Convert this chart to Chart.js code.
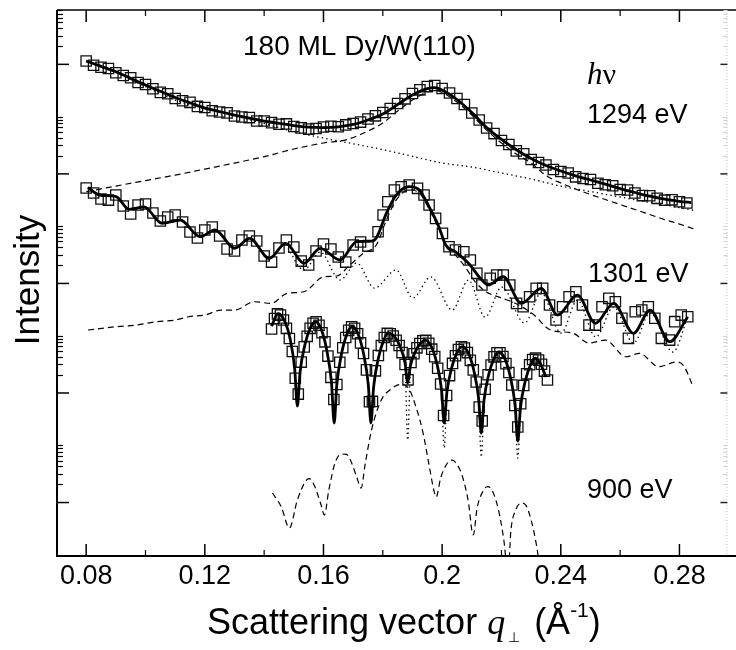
<!DOCTYPE html>
<html>
<head>
<meta charset="utf-8">
<script src="https://cdn.jsdelivr.net/npm/chart.js@4.4.1/dist/chart.umd.min.js"></script>
<style>
  html, body { margin: 0; padding: 0; background: #fff; }
</style>
</head>
<body>
<canvas id="chart" width="736" height="650"></canvas>
<script>
// y values are log10(intensity), arbitrary units; x is q in 1/Å
const xTickValues = [0.08, 0.12, 0.16, 0.2, 0.24, 0.28];
const xTickLabels = ['0.08', '0.12', '0.16', '0.2', '0.24', '0.28'];
const xMinorValues = [0.10, 0.14, 0.18, 0.22, 0.26];
const yDecades = [0, 1, 2, 3, 4];

// 1294 eV
const q1294 = [
  0.0800, 0.0825, 0.0850, 0.0875, 0.0900, 0.0925, 0.0950, 0.0975, 0.1000, 0.1025,
  0.1050, 0.1075, 0.1100, 0.1125, 0.1150, 0.1175, 0.1200, 0.1225, 0.1250, 0.1275,
  0.1300, 0.1325, 0.1350, 0.1375, 0.1400, 0.1425, 0.1450, 0.1475, 0.1500, 0.1525,
  0.1550, 0.1575, 0.1600, 0.1625, 0.1650, 0.1675, 0.1700, 0.1725, 0.1750, 0.1775,
  0.1800, 0.1825, 0.1850, 0.1875, 0.1900, 0.1925, 0.1950, 0.1975, 0.2000, 0.2025,
  0.2050, 0.2075, 0.2100, 0.2125, 0.2150, 0.2175, 0.2200, 0.2225, 0.2250, 0.2275,
  0.2300, 0.2325, 0.2350, 0.2375, 0.2400, 0.2425, 0.2450, 0.2475, 0.2500, 0.2525,
  0.2550, 0.2575, 0.2600, 0.2625, 0.2650, 0.2675, 0.2700, 0.2725, 0.2750, 0.2775,
  0.2800, 0.2825
];
const v1294 = [
  4.030, 3.992, 3.973, 3.962, 3.923, 3.898, 3.877, 3.834, 3.816, 3.777,
  3.744, 3.731, 3.688, 3.668, 3.653, 3.616, 3.606, 3.576, 3.565, 3.557,
  3.528, 3.519, 3.514, 3.483, 3.483, 3.468, 3.453, 3.456, 3.432, 3.420,
  3.409, 3.414, 3.428, 3.435, 3.430, 3.447, 3.460, 3.473, 3.501, 3.530,
  3.560, 3.597, 3.642, 3.685, 3.734, 3.767, 3.797, 3.807, 3.779, 3.738,
  3.688, 3.633, 3.556, 3.492, 3.419, 3.368, 3.305, 3.268, 3.210, 3.184,
  3.131, 3.104, 3.081, 3.040, 3.022, 3.008, 2.973, 2.958, 2.949, 2.915,
  2.901, 2.892, 2.857, 2.853, 2.825, 2.802, 2.801, 2.777, 2.760, 2.763,
  2.746, 2.734
];
const q1294Fit = [
  0.080, 0.085, 0.090, 0.095, 0.100, 0.105, 0.110, 0.115, 0.120, 0.125,
  0.130, 0.135, 0.140, 0.145, 0.150, 0.155, 0.160, 0.165, 0.170, 0.175,
  0.180, 0.185, 0.190, 0.195, 0.1975, 0.200, 0.205, 0.210, 0.215, 0.220,
  0.225, 0.230, 0.235, 0.240, 0.245, 0.250, 0.255, 0.260, 0.265, 0.270,
  0.275, 0.280, 0.284
];
const v1294Fit = [
  4.030, 3.982, 3.933, 3.872, 3.811, 3.754, 3.697, 3.649, 3.601, 3.569,
  3.537, 3.510, 3.482, 3.462, 3.441, 3.427, 3.423, 3.430, 3.451, 3.492,
  3.546, 3.633, 3.720, 3.779, 3.788, 3.765, 3.679, 3.560, 3.423, 3.314,
  3.220, 3.140, 3.076, 3.026, 2.982, 2.944, 2.906, 2.866, 2.830, 2.796,
  2.769, 2.750, 2.738
];
const q1294Dash = [
  0.080, 0.090, 0.100, 0.110, 0.120, 0.130, 0.140, 0.150, 0.160, 0.168,
  0.175, 0.180, 0.185, 0.190, 0.195, 0.1975, 0.200, 0.205, 0.210, 0.215,
  0.220, 0.225, 0.230, 0.235, 0.240, 0.245, 0.250, 0.255, 0.260, 0.265,
  0.270, 0.275, 0.280, 0.285
];
const v1294Dash = [
  2.837, 2.889, 2.939, 2.989, 3.044, 3.099, 3.157, 3.227, 3.282, 3.314,
  3.391, 3.464, 3.574, 3.674, 3.747, 3.765, 3.743, 3.656, 3.537, 3.400,
  3.282, 3.181, 3.099, 2.985, 2.917, 2.862, 2.812, 2.766, 2.720, 2.675,
  2.629, 2.583, 2.542, 2.497
];
const q1294Dot = [
  0.080, 0.090, 0.100, 0.110, 0.120, 0.130, 0.140, 0.150, 0.160, 0.170,
  0.180, 0.190, 0.200, 0.210, 0.220, 0.230, 0.240, 0.250, 0.260, 0.270,
  0.280, 0.285
];
const v1294Dot = [
  4.026, 3.925, 3.797, 3.674, 3.598, 3.530, 3.460, 3.385, 3.327, 3.275,
  3.222, 3.160, 3.099, 3.063, 3.008, 2.953, 2.889, 2.839, 2.789, 2.739,
  2.693, 2.666
];

// 1301 eV
const q1301 = [
  0.0800, 0.0825, 0.0850, 0.0875, 0.0900, 0.0925, 0.0950, 0.0975, 0.1000, 0.1025,
  0.1050, 0.1075, 0.1100, 0.1125, 0.1150, 0.1175, 0.1200, 0.1225, 0.1250, 0.1275,
  0.1300, 0.1325, 0.1350, 0.1375, 0.1400, 0.1425, 0.1450, 0.1475, 0.1500, 0.1525,
  0.1550, 0.1575, 0.1600, 0.1625, 0.1650, 0.1675, 0.1700, 0.1725, 0.1750,
  0.1784, 0.1801, 0.1817, 0.1839, 0.1862, 0.1889, 0.1917, 0.1939, 0.1956, 0.1978,
  0.2001, 0.2023, 0.2045, 0.2073, 0.2095, 0.2117, 0.2134, 0.2162, 0.2184, 0.2206,
  0.2228, 0.2251, 0.2273, 0.2295, 0.2317, 0.2339, 0.2362, 0.2384, 0.2406, 0.2428,
  0.2451, 0.2473, 0.2495, 0.2517, 0.2539, 0.2562, 0.2584, 0.2606, 0.2628, 0.2651,
  0.2673, 0.2695, 0.2717, 0.2739, 0.2767, 0.2784, 0.2806, 0.2828
];
const v1301 = [
  2.871, 2.825, 2.771, 2.761, 2.807, 2.707, 2.634, 2.716, 2.725, 2.643,
  2.570, 2.606, 2.624, 2.561, 2.469, 2.415, 2.488, 2.515, 2.433, 2.314,
  2.296, 2.396, 2.433, 2.387, 2.250, 2.195, 2.323, 2.396, 2.332, 2.204,
  2.168, 2.296, 2.359, 2.314, 2.241, 2.195, 2.351, 2.378, 2.341,
  2.472, 2.625, 2.746, 2.853, 2.883, 2.898, 2.868, 2.807, 2.716, 2.594,
  2.457, 2.335, 2.305, 2.289, 2.214, 2.092, 1.986, 2.047, 2.077, 2.077,
  1.986, 1.818, 1.787, 1.879, 1.955, 1.955, 1.803, 1.666, 1.787, 1.879,
  1.924, 1.803, 1.620, 1.620, 1.787, 1.864, 1.833, 1.682, 1.499, 1.742,
  1.757, 1.787, 1.682, 1.499, 1.483, 1.651, 1.711, 1.696
];
const q1301Fit = [
  0.0806, 0.0845, 0.0901, 0.0945, 0.0995, 0.1056, 0.1117, 0.1184, 0.1234, 0.1301,
  0.1351, 0.1417, 0.1473, 0.1534, 0.1589, 0.1656, 0.1712, 0.1762, 0.1778, 0.1812,
  0.1845, 0.1889, 0.1923, 0.1956, 0.1989, 0.2012, 0.2045, 0.2089, 0.2134, 0.2156,
  0.2206, 0.2267, 0.2334, 0.2389, 0.2456, 0.2517, 0.2578, 0.2645, 0.2701, 0.2767,
  0.2828
];
const v1301Fit = [
  2.877, 2.807, 2.792, 2.676, 2.698, 2.549, 2.579, 2.426, 2.488, 2.320,
  2.412, 2.229, 2.366, 2.184, 2.320, 2.214, 2.381, 2.387, 2.415, 2.640,
  2.807, 2.883, 2.853, 2.700, 2.518, 2.351, 2.289, 2.184, 2.031, 1.986,
  2.061, 1.818, 1.955, 1.712, 1.894, 1.636, 1.818, 1.545, 1.757, 1.468,
  1.696
];
const q1301Dash = [
  0.0806, 0.0901, 0.0967, 0.1034, 0.1101, 0.1145, 0.1201, 0.1256, 0.1301, 0.1367,
  0.1423, 0.1478, 0.1534, 0.1601, 0.1645, 0.1689, 0.1734, 0.1778, 0.1812, 0.1845,
  0.1889, 0.1923, 0.1956, 0.1989, 0.2012, 0.2045, 0.2080, 0.2112, 0.2150, 0.2200,
  0.2245, 0.2310, 0.2365, 0.2440, 0.2495, 0.2550, 0.2620, 0.2665, 0.2730, 0.2790,
  0.2815, 0.2845
];
const v1301Dash = [
  1.575, 1.605, 1.620, 1.650, 1.666, 1.696, 1.712, 1.757, 1.757, 1.833,
  1.818, 1.910, 1.924, 2.061, 2.068, 2.168, 2.275, 2.351, 2.579, 2.761,
  2.853, 2.825, 2.679, 2.497, 2.342, 2.259, 2.141, 2.013, 1.922, 1.867,
  1.821, 1.712, 1.575, 1.547, 1.456, 1.483, 1.331, 1.362, 1.240, 1.283,
  1.246, 1.064
];
const q1301Dot = [
  0.1473, 0.1534, 0.1589, 0.1656, 0.1712, 0.1772, 0.1845, 0.1901, 0.1962, 0.2034,
  0.2089, 0.2145, 0.2201, 0.2278, 0.2334, 0.2401, 0.2456, 0.2518, 0.2578, 0.2645,
  0.2701, 0.2778, 0.2828
];
const v1301Dot = [
  2.360, 2.122, 2.287, 2.031, 2.186, 1.958, 2.122, 1.867, 2.059, 1.757,
  2.031, 1.693, 1.967, 1.639, 1.913, 1.547, 1.848, 1.511, 1.785, 1.456,
  1.730, 1.374, 1.693
];

// 900 eV
const q900 = [
  0.1425, 0.1435, 0.1445, 0.1455, 0.1465, 0.1475, 0.1485, 0.1495, 0.1505, 0.1515,
  0.1525, 0.1535, 0.1545, 0.1555, 0.1565, 0.1575, 0.1585, 0.1595, 0.1605, 0.1615,
  0.1625, 0.1635, 0.1645, 0.1655, 0.1665, 0.1675, 0.1685, 0.1695, 0.1705, 0.1715,
  0.1725, 0.1735, 0.1745, 0.1755, 0.1765, 0.1775, 0.1785, 0.1795, 0.1805, 0.1815,
  0.1825, 0.1835, 0.1845, 0.1855, 0.1865, 0.1875, 0.1885, 0.1895, 0.1905, 0.1915,
  0.1925, 0.1935, 0.1945, 0.1955, 0.1965, 0.1975, 0.1985, 0.1995, 0.2005, 0.2015,
  0.2025, 0.2035, 0.2045, 0.2055, 0.2065, 0.2075, 0.2085, 0.2095, 0.2105, 0.2115,
  0.2125, 0.2135, 0.2145, 0.2155, 0.2165, 0.2175, 0.2185, 0.2195, 0.2205, 0.2215,
  0.2225, 0.2235, 0.2245, 0.2255, 0.2265, 0.2275, 0.2285, 0.2295, 0.2305, 0.2315,
  0.2325, 0.2335, 0.2345, 0.2355
];
const v900 = [
  1.584, 1.680, 1.722, 1.711, 1.666, 1.590, 1.497, 1.379, 1.134, 0.990,
  1.282, 1.421, 1.517, 1.590, 1.637, 1.650, 1.618, 1.550, 1.467, 1.337,
  1.143, 0.940, 1.078, 1.281, 1.413, 1.506, 1.572, 1.604, 1.591, 1.541,
  1.457, 1.360, 1.211, 0.920, 0.923, 1.202, 1.342, 1.432, 1.506, 1.544,
  1.541, 1.520, 1.481, 1.433, 1.369, 1.260, 1.120, 1.279, 1.358, 1.412,
  1.452, 1.477, 1.480, 1.453, 1.400, 1.332, 1.226, 1.082, 0.794, 0.977,
  1.159, 1.270, 1.340, 1.396, 1.422, 1.411, 1.369, 1.298, 1.211, 1.100,
  0.871, 0.745, 1.034, 1.167, 1.256, 1.330, 1.367, 1.367, 1.333, 1.268,
  1.187, 1.073, 0.886, 0.690, 0.902, 1.069, 1.175, 1.258, 1.306, 1.318,
  1.300, 1.262, 1.200, 1.118
];
const q900Fit = [
  0.1425, 0.1447, 0.1469, 0.1488, 0.1503, 0.1512, 0.1521, 0.1537, 0.1555, 0.1573,
  0.1593, 0.1611, 0.1627, 0.1636, 0.1645, 0.1661, 0.1679, 0.1697, 0.1717, 0.1735,
  0.1751, 0.1760, 0.1769, 0.1785, 0.1803, 0.1818, 0.1841, 0.1859, 0.1875, 0.1884,
  0.1893, 0.1909, 0.1927, 0.1942, 0.1964, 0.1982, 0.1998, 0.2007, 0.2016, 0.2032,
  0.2050, 0.2067, 0.2089, 0.2107, 0.2123, 0.2132, 0.2141, 0.2157, 0.2175, 0.2190,
  0.2212, 0.2230, 0.2246, 0.2255, 0.2264, 0.2280, 0.2298, 0.2312, 0.2330, 0.2350
];
const v900Fit = [
  1.611, 1.725, 1.657, 1.489, 1.219, 0.881, 1.189, 1.436, 1.590, 1.652,
  1.578, 1.393, 1.096, 0.726, 1.078, 1.360, 1.537, 1.607, 1.537, 1.360,
  1.078, 0.726, 1.054, 1.317, 1.481, 1.547, 1.511, 1.419, 1.273, 1.091,
  1.248, 1.373, 1.452, 1.483, 1.422, 1.271, 1.029, 0.726, 1.005, 1.229,
  1.368, 1.424, 1.361, 1.203, 0.950, 0.634, 0.930, 1.167, 1.315, 1.374,
  1.309, 1.146, 0.886, 0.561, 0.864, 1.107, 1.258, 1.319, 1.274, 1.146
];
const q900Dash = [
  0.1428, 0.1458, 0.1485, 0.1512, 0.1540, 0.1552, 0.1570, 0.1592, 0.1603, 0.1618,
  0.1640, 0.1662, 0.1678, 0.1695, 0.1712, 0.1727, 0.1740, 0.1762, 0.1795, 0.1828,
  0.1858, 0.1885, 0.1913, 0.1935, 0.1953, 0.1972, 0.1980, 0.1995, 0.2018, 0.2033,
  0.2050, 0.2070, 0.2090, 0.2100, 0.2105, 0.2118, 0.2140, 0.2153, 0.2168, 0.2190,
  0.2208, 0.2222, 0.2232, 0.2248, 0.2268, 0.2282, 0.2300, 0.2318, 0.2333
];
const v900Dash = [
  0.087, -0.041, -0.233, 0.023, 0.196, 0.219, 0.151, -0.023, -0.114, 0.114,
  0.370, 0.443, 0.439, 0.361, 0.233, 0.132, 0.342, 0.662, 0.936, 1.036,
  1.077, 1.050, 0.863, 0.644, 0.388, 0.114, 0.050, 0.224, 0.361, 0.388,
  0.351, 0.224, -0.023, -0.251, -0.296, -0.050, 0.114, 0.146, 0.114, -0.068,
  -0.342, -0.650, -0.251, -0.068, -0.004, -0.023, -0.160, -0.388, -0.662
];
const q900Dot = [
  0.1818, 0.1841, 0.1859, 0.1875, 0.1884, 0.1893, 0.1909, 0.1927, 0.1942, 0.1964,
  0.1982, 0.1998, 0.2007, 0.2016, 0.2032, 0.2050, 0.2067, 0.2089, 0.2107, 0.2123,
  0.2132, 0.2141, 0.2157, 0.2175, 0.2190, 0.2212, 0.2230, 0.2246, 0.2255, 0.2264,
  0.2280, 0.2298, 0.2312, 0.2330, 0.2350
];
const v900Dot = [
  1.547, 1.511, 1.419, 1.250, 0.571, 1.220, 1.373, 1.452, 1.483, 1.422,
  1.271, 0.990, 0.498, 0.960, 1.229, 1.368, 1.424, 1.361, 1.203, 0.910,
  0.415, 0.890, 1.167, 1.315, 1.374, 1.309, 1.146, 0.850, 0.406, 0.830,
  1.107, 1.258, 1.319, 1.274, 1.146
];

const FONT = '"Liberation Sans", Arial, Helvetica, sans-serif';
const SERIF = '"Liberation Serif", "Times New Roman", serif';
const MINOR_SPAN = 0.548; // minor log ticks are drawn compressed, as in the original axis

function pts(qs, vs) {
  return qs.map((q, i) => ({ x: q, y: vs[i] }));
}

const squares = {
  showLine: false, pointStyle: 'rect', pointRadius: 7.3, pointHoverRadius: 7.3,
  pointBorderWidth: 1.3, pointBorderColor: '#111', pointBackgroundColor: 'rgba(0,0,0,0)',
  order: 1
};
const fit = {
  showLine: true, pointRadius: 0, borderColor: '#000', borderWidth: 2.8,
  cubicInterpolationMode: 'monotone', order: 0
};
const dashed = {
  showLine: true, pointRadius: 0, borderColor: '#000', borderWidth: 1.2,
  borderDash: [6, 4], cubicInterpolationMode: 'monotone', order: 2
};
const dotted = {
  showLine: true, pointRadius: 0, borderColor: '#000', borderWidth: 1.3,
  borderDash: [1.4, 3.2], cubicInterpolationMode: 'monotone', order: 2
};

const datasets = [
  { label: '1294 eV', data: pts(q1294, v1294), ...squares },
  { label: '1294 eV fit', data: pts(q1294Fit, v1294Fit), ...fit },
  { label: '1294 eV peak', data: pts(q1294Dash, v1294Dash), ...dashed },
  { label: '1294 eV background', data: pts(q1294Dot, v1294Dot), ...dotted },
  { label: '1301 eV', data: pts(q1301, v1301), ...squares },
  { label: '1301 eV fit', data: pts(q1301Fit, v1301Fit), ...fit },
  { label: '1301 eV dashed', data: pts(q1301Dash, v1301Dash), ...dashed },
  { label: '1301 eV dotted', data: pts(q1301Dot, v1301Dot), ...dotted },
  { label: '900 eV', data: pts(q900, v900), ...squares },
  { label: '900 eV fit', data: pts(q900Fit, v900Fit), ...fit },
  { label: '900 eV dashed', data: pts(q900Dash, v900Dash), ...dashed },
  { label: '900 eV dotted', data: pts(q900Dot, v900Dot), ...dotted }
];

function line(ctx, x1, y1, x2, y2, color, width) {
  ctx.strokeStyle = color;
  ctx.lineWidth = width;
  ctx.beginPath();
  ctx.moveTo(x1, y1);
  ctx.lineTo(x2, y2);
  ctx.stroke();
}

const frame = {
  id: 'frame',
  afterDraw(chart) {
    const { ctx, chartArea: a } = chart;
    const xs = chart.scales.x;
    const ys = chart.scales.y;
    const W = chart.width;
    ctx.save();

    // box
    line(ctx, a.left, a.top, W, a.top, '#000', 1.5);
    ctx.setLineDash([1, 2]);
    line(ctx, a.right - 0.5, a.top, a.right - 0.5, a.bottom, '#c4c4c4', 1);
    ctx.setLineDash([]);
    ctx.strokeStyle = '#000';
    ctx.lineWidth = 2;
    ctx.beginPath();
    ctx.moveTo(a.left, a.top);
    ctx.lineTo(a.left, a.bottom);
    ctx.lineTo(W, a.bottom);
    ctx.stroke();

    // y ticks (left and right)
    yDecades.forEach((d) => {
      const py = ys.getPixelForValue(d);
      line(ctx, a.left, py, a.left + 12, py, '#000', 1.5);
      line(ctx, a.right - 7, py, a.right, py, '#222', 1.5);
      for (let k = 2; k <= 9; k++) {
        const v = d + Math.log10(k) * MINOR_SPAN;
        if (v > ys.max) continue;
        const pm = Math.round(ys.getPixelForValue(v)) + 0.5;
        line(ctx, a.left, pm, a.left + 6, pm, '#000', 1.2);
        line(ctx, a.right - 4, pm, a.right, pm, '#d0d0d0', 1);
      }
    });

    // x ticks (bottom and top)
    xTickValues.forEach((q) => {
      const px = xs.getPixelForValue(q);
      line(ctx, px, a.bottom, px, a.bottom - 12, '#000', 1.5);
      line(ctx, px, a.top, px, a.top + 12, '#000', 1.5);
    });
    xMinorValues.forEach((q) => {
      const px = xs.getPixelForValue(q);
      line(ctx, px, a.bottom, px, a.bottom - 6, '#000', 1.2);
      line(ctx, px, a.top, px, a.top + 6, '#000', 1.2);
    });

    // annotations
    ctx.fillStyle = '#000';
    ctx.textBaseline = 'alphabetic';
    ctx.textAlign = 'left';
    ctx.font = '28px ' + FONT;
    ctx.fillText('180 ML Dy/W(110)', 243, 55);
    ctx.font = 'italic 31px ' + SERIF;
    ctx.fillText('h', 587, 84);
    const hw = ctx.measureText('h').width;
    ctx.font = '30px ' + SERIF;
    ctx.fillText('ν', 587 + hw, 84);
    ctx.font = '27px ' + FONT;
    ctx.fillText('1294 eV', 587, 123);
    ctx.fillText('1301 eV', 588, 282);
    ctx.fillText('900 eV', 587, 498);

    // x title
    let x = 207;
    const base = 634;
    ctx.font = '36px ' + FONT;
    ctx.fillText('Scattering vector ', x, base);
    x += ctx.measureText('Scattering vector ').width;
    ctx.font = 'italic 36px ' + SERIF;
    ctx.fillText('q', x, base);
    x += ctx.measureText('q').width + 3;
    ctx.font = '14px ' + FONT;
    ctx.fillText('⊥', x, base + 8);
    x += ctx.measureText('⊥').width + 14;
    ctx.font = '36px ' + FONT;
    ctx.fillText('(Å', x, base);
    x += ctx.measureText('(Å').width;
    ctx.font = '21px ' + FONT;
    ctx.fillText('-1', x, base - 17);
    x += ctx.measureText('-1').width;
    ctx.font = '36px ' + FONT;
    ctx.fillText(')', x, base);

    // y title
    ctx.translate(39, 280);
    ctx.rotate(-Math.PI / 2);
    ctx.textAlign = 'center';
    ctx.font = '35px ' + FONT;
    ctx.fillText('Intensity', 0, 0);
    ctx.restore();
  }
};

new Chart(document.getElementById('chart'), {
  type: 'scatter',
  data: { datasets },
  options: {
    responsive: false,
    animation: false,
    devicePixelRatio: 1,
    layout: { padding: { left: 57, right: 1, top: 10, bottom: 0 } },
    plugins: { legend: { display: false }, tooltip: { enabled: false } },
    scales: {
      x: {
        type: 'linear',
        min: 0.070167,
        max: 0.296167,
        afterFit: (s) => { s.height = 94; },
        afterBuildTicks: (s) => { s.ticks = xTickValues.map((v) => ({ value: v })); },
        grid: { display: false, drawTicks: false },
        border: { display: false },
        ticks: {
          padding: 4,
          autoSkip: false,
          maxRotation: 0,
          color: '#000',
          font: { family: FONT, size: 27 },
          callback: (v, i) => xTickLabels[i]
        }
      },
      y: {
        type: 'linear',
        display: false,
        min: -0.488,
        max: 4.496
      }
    }
  },
  plugins: [frame]
});
</script>
</body>
</html>
